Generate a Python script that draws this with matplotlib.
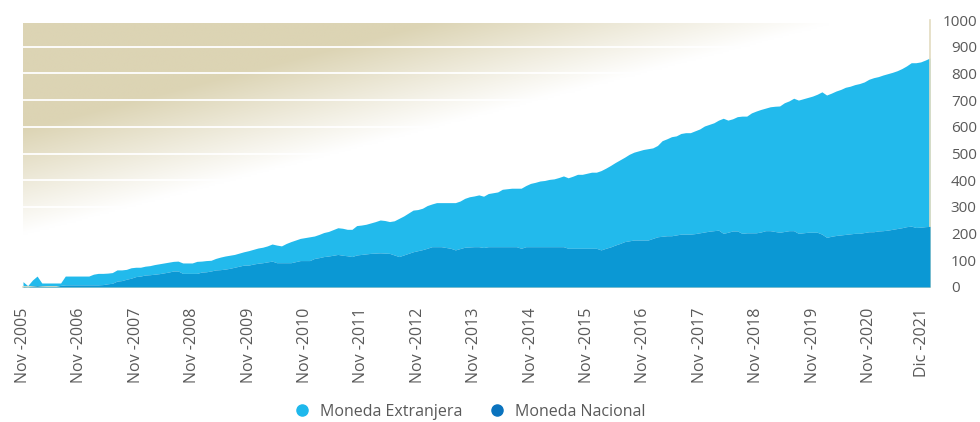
import numpy as np
import matplotlib
matplotlib.use('Agg')
from matplotlib import pyplot as plt
from matplotlib.lines import Line2D
from matplotlib.transforms import ScaledTranslation

plt.rcParams['font.family'] = ['Open Sans', 'DejaVu Sans']

# saldo mensual, Nov-2005 .. Dic-2021 (total apilado y parte en moneda nacional)
total = [
   20,   5,  26,  41,  15,  15,  15,  15,  15,  41,  41,  41,
   41,  41,  41,  48,  51,  51,  52,  54,  64,  64,  66,  72,
   74,  74,  78,  80,  84,  87,  90,  93,  96,  97,  90,  90,
   90,  96,  97,  99, 100, 107, 112, 116, 119, 122, 127, 132,
  136, 141, 146, 149, 154, 161, 157, 154, 163, 170, 176, 182,
  185, 188, 191, 197, 204, 208, 215, 222, 220, 216, 216, 230,
  232, 235, 240, 245, 251, 249, 245, 248, 257, 266, 277, 288,
  290, 295, 305, 311, 316, 316, 316, 316, 316, 322, 332, 338,
  341, 345, 340, 350, 353, 356, 366, 368, 370, 370, 370, 380,
  388, 392, 397, 399, 403, 405, 410, 416, 409, 415, 422, 422,
  426, 430, 430, 436, 445, 455, 466, 476, 486, 497, 505, 510,
  515, 518, 521, 530, 548, 555, 563, 566, 575, 578, 578, 585,
  592, 603, 609, 615, 625, 632, 625, 630, 638, 640, 640, 652,
  659, 665, 670, 675, 677, 678, 690, 697, 707, 700, 705, 710,
  715, 722, 731, 719, 726, 734, 740, 748, 752, 758, 762, 768,
  778, 784, 788, 794, 799, 804, 810, 818, 828, 840, 840, 843, 850, 858,
]
nacional = [
    2,   1,   3,   5,   3,   2,   2,   2,   6,   8,   8,   8,
    8,   8,   8,   8,   8,   9,  12,  14,  22,  24,  29,  33,
   39,  41,  45,  46,  48,  50,  53,  56,  60,  60,  51,  51,
   51,  51,  56,  57,  60,  64,  65,  67,  70,  74,  78,  82,
   82,  86,  89,  91,  94,  97,  91,  91,  91,  91,  95,  99,
   99,  99, 107, 110, 114, 116, 119, 122, 119, 117, 114, 120,
  122, 124, 126, 127, 128, 127, 126, 120, 114, 120, 126, 132,
  136, 140, 145, 151, 151, 151, 148, 145, 139, 144, 149, 150,
  151, 151, 148, 151, 151, 151, 151, 151, 151, 151, 145, 151,
  151, 151, 151, 151, 151, 151, 151, 151, 145, 145, 145, 145,
  145, 145, 145, 139, 145, 150, 157, 163, 170, 173, 176, 176,
  176, 176, 182, 188, 190, 192, 192, 195, 198, 198, 198, 200,
  203, 206, 209, 211, 213, 201, 205, 210, 210, 201, 203, 203,
  203, 206, 211, 211, 208, 205, 208, 211, 211, 201, 203, 205,
  205, 205, 198, 186, 190, 193, 195, 197, 199, 201, 201, 204,
  207, 207, 210, 211, 213, 216, 219, 222, 226, 228, 223, 224, 226, 227,
]
xlabels = ['Nov -2005', 'Nov -2006', 'Nov -2007', 'Nov -2008', 'Nov -2009',
           'Nov -2010', 'Nov -2011', 'Nov -2012', 'Nov -2013', 'Nov -2014',
           'Nov -2015', 'Nov -2016', 'Nov -2017', 'Nov -2018', 'Nov -2019',
           'Nov -2020', 'Dic -2021']
series = ['Moneda Extranjera', 'Moneda Nacional']

C_EXT  = '#22BAEC'
C_NAC  = '#0B98D4'
C_LEG  = ['#1EB8EC', '#0A73BE']
GREY   = '#595959'
BEIGE  = np.array([220, 212, 180]) / 255.

months = np.arange(len(total))
xticks = list(range(0, 181, 12)) + [len(total) - 1]

fig = plt.figure(figsize=(9.8, 4.22), dpi=100)
ax  = fig.add_axes([23/980, 1 - 287/422, (930-23)/980, (287-20)/422])

# fondo degradado beige -> blanco en diagonal
nx, ny = 300, 150
uu, vv = np.meshgrid(np.linspace(0, 1, nx), np.linspace(0, 1, ny))
t   = vv - 0.32 - 0.9*uu
a   = np.clip((t + 0.12) / 0.4, 0, 1)
img = np.ones((ny, nx, 3)) * (1 - a[..., None]) + BEIGE * a[..., None]
ax.imshow(img, extent=[months[0], months[-1], 0, 988], origin='lower',
          aspect='auto', zorder=0, interpolation='bilinear')

for yv in range(100, 1000, 100):
  ax.axhline(yv, color='white', lw=1.3, zorder=1)

ax.fill_between(months, 0, nacional, color=C_NAC, lw=0, zorder=3)
ax.fill_between(months, nacional, total, color=C_EXT, lw=0, zorder=2)

ax.set_xlim(months[0], months[-1])
ax.set_ylim(0, 1000)
ax.set_yticks(range(0, 1001, 100))
ax.yaxis.tick_right()
ax.tick_params(axis='y', length=0, pad=15, labelsize=11, labelcolor=GREY)
for lbl in ax.get_yticklabels():
  lbl.set_horizontalalignment('left')
ax.get_yticklabels()[-1].set_transform(
  ax.get_yticklabels()[-1].get_transform() + ScaledTranslation(-0.08, 0, fig.dpi_scale_trans))

ax.set_xticks(xticks)
ax.set_xticklabels(xlabels, rotation=90, fontsize=11.5, color=GREY)
ax.tick_params(axis='x', length=0, pad=15)
last = ax.get_xticklabels()[-1]
last.set_transform(last.get_transform() + ScaledTranslation(-0.08, 0, fig.dpi_scale_trans))

for s in ['top', 'left']:
  ax.spines[s].set_visible(False)
for s in ['bottom', 'right']:
  ax.spines[s].set_color('#E3DCC0')
  ax.spines[s].set_linewidth(1.2)

handles = [Line2D([0], [0], marker='o', color=c, lw=0, markersize=8) for c in C_LEG]
leg = fig.legend(handles, series, loc='center', ncol=2, frameon=False,
                 bbox_to_anchor=(466/980, 1 - 412/422), fontsize=11.5,
                 handletextpad=0.1, columnspacing=1.2)
for txt in leg.get_texts():
  txt.set_color(GREY)

fig.savefig('out.png', dpi=100)
